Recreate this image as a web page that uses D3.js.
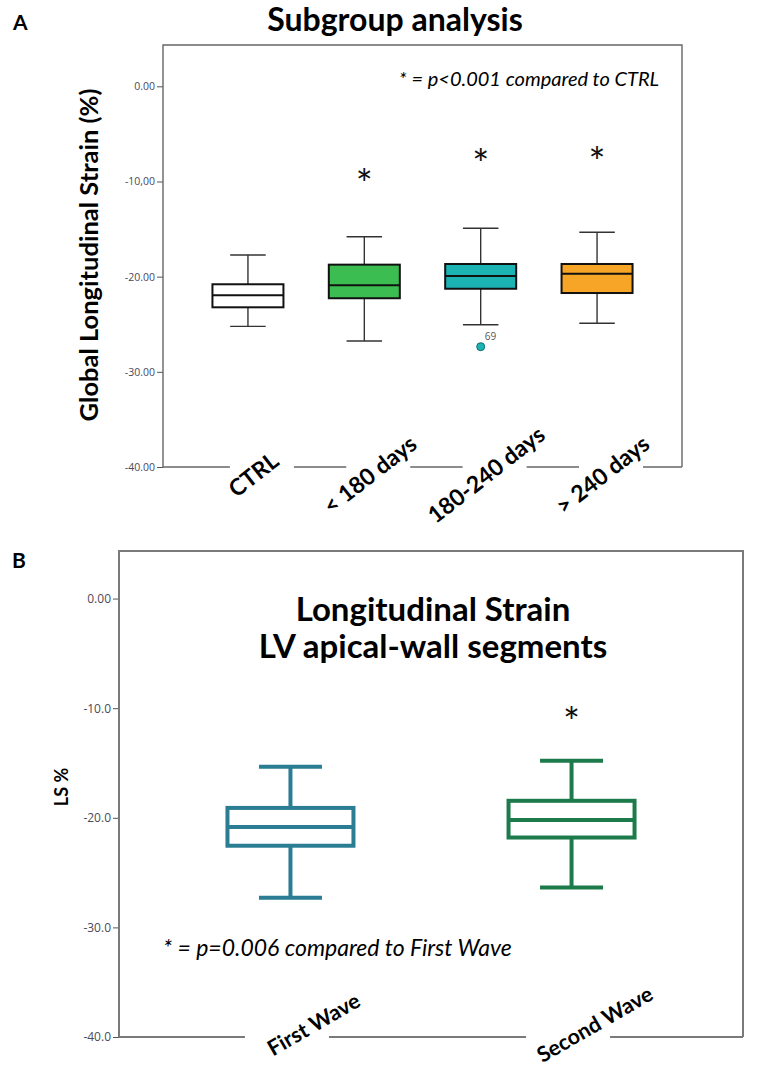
<!DOCTYPE html>
<html lang="en">
<head>
<meta charset="UTF-8">
<title>Subgroup analysis / Longitudinal Strain</title>
<script src="https://d3js.org/d3.v7.min.js"></script>
<style>
  body { margin: 0; background: #fff; }
  svg { display: block; font-family: Lato, "Open Sans", sans-serif; }
  .tick text { font-family: "Open Sans", sans-serif; fill: #4a4a5a; }
</style>
</head>
<body>
<svg id="chart" width="761" height="1070"></svg>
<script>
// ---- Panel A: subgroup analysis ----
const groupsA = ["CTRL", "< 180 days", "180-240 days", "> 240 days"];
const whiskerLowA = [-25.22, -26.76, -25.05, -24.9];
const q1A = [-23.22, -22.27, -21.27, -21.72];
const medianA = [-21.96, -20.91, -19.93, -19.69];
const q3A = [-20.8, -18.74, -18.67, -18.67];
const whiskerHighA = [-17.73, -15.8, -14.92, -15.34];
const colorsA = ["#ffffff", "#3bbd52", "#1cb3b5", "#f7a527"];
const starA = [null, -9.5, -7.4, -7.2];
const outliersA = [{ group: "180-240 days", value: -27.36, label: "69" }];
const tickValuesA = [0, -10, -20, -30, -40];
const tickLabelsA = ["0.00", "-10,00", "-20.00", "-30.00", "-40.00"];

// ---- Panel B: LV apical-wall segments ----
const groupsB = ["First Wave", "Second Wave"];
const whiskerLowB = [-27.3, -26.35];
const q1B = [-22.55, -21.8];
const medianB = [-20.85, -20.2];
const q3B = [-19.1, -18.45];
const whiskerHighB = [-15.35, -14.8];
const colorsB = ["#2a7d93", "#1d7a4a"];
const starB = [null, -10.6];
const tickValuesB = [0, -10, -20, -30, -40];
const tickLabelsB = ["0.00", "-10.0", "-20.0", "-30.0", "-40.0"];

const svg = d3.select("#chart");

function drawPanel(p) {
    const g = svg.append("g");
    const y = d3.scaleLinear().domain([-40, 4.34]).range([p.bottom, p.top]);
    const x = d3.scalePoint().domain(p.groups).range([p.left, p.right]).padding(p.padding);

    const rows = p.groups.map((name, i) => ({
        name, lo: p.lo[i], q1: p.q1[i], med: p.med[i], q3: p.q3[i], hi: p.hi[i],
        color: p.colors[i], star: p.star[i]
    }));

    // y axis (ticks only, frame drawn separately)
    const axis = g.append("g")
        .attr("transform", `translate(${p.left},0)`)
        .call(d3.axisLeft(y).tickValues(p.tickValues)
            .tickFormat((d, i) => p.tickLabels[i]).tickSize(6).tickPadding(2));
    axis.select(".domain").remove();
    axis.selectAll(".tick line").attr("stroke", "#555");
    axis.selectAll(".tick text").attr("font-size", p.tickFont);

    // frame: left, top, right
    g.append("path")
        .attr("d", `M${p.left},${p.bottom}V${p.top}H${p.right}V${p.bottom}`)
        .attr("fill", "none").attr("stroke", p.frameColor).attr("stroke-width", p.frameWidth);

    // x labels + broken bottom axis
    const rad = p.angle * Math.PI / 180;
    const gaps = [];
    rows.forEach(d => {
        const mx = x(d.name) + p.labelDx, my = p.labelY;
        g.append("text")
            .attr("transform", `translate(${mx},${my}) rotate(${-p.angle})`)
            .attr("text-anchor", "middle")
            .attr("dominant-baseline", "central")
            .attr("font-weight", "bold")
            .attr("font-size", p.labelFont)
            .attr("fill", "#000")
            .text(d.name);
        const cx = mx + (my - p.bottom) / Math.tan(rad) + p.gapShift;
        gaps.push([cx - p.gapHalf, cx + p.gapHalf]);
    });
    let start = p.left;
    gaps.forEach(([a, b]) => {
        g.append("line").attr("x1", start).attr("x2", a).attr("y1", p.bottom).attr("y2", p.bottom)
            .attr("stroke", p.frameColor).attr("stroke-width", p.frameWidth);
        start = b;
    });
    g.append("line").attr("x1", start).attr("x2", p.right).attr("y1", p.bottom).attr("y2", p.bottom)
        .attr("stroke", p.frameColor).attr("stroke-width", p.frameWidth);

    // boxes
    const bw = p.boxWidth;
    const box = g.selectAll(".box").data(rows).join("g").attr("class", "box");
    box.append("line")
        .attr("x1", d => x(d.name)).attr("x2", d => x(d.name))
        .attr("y1", d => y(d.hi)).attr("y2", d => y(d.lo))
        .attr("stroke", d => p.whiskerColor || d.color).attr("stroke-width", p.whiskerWidth);
    ["hi", "lo"].forEach(k => {
        box.append("line")
            .attr("x1", d => x(d.name) - bw / 4).attr("x2", d => x(d.name) + bw / 4)
            .attr("y1", d => y(d[k])).attr("y2", d => y(d[k]))
            .attr("stroke", d => p.whiskerColor || d.color).attr("stroke-width", p.whiskerWidth);
    });
    box.append("rect")
        .attr("x", d => x(d.name) - bw / 2).attr("width", bw)
        .attr("y", d => y(d.q3)).attr("height", d => y(d.q1) - y(d.q3))
        .attr("fill", d => p.filled ? d.color : "#fff")
        .attr("stroke", d => p.boxStroke || d.color).attr("stroke-width", p.boxWidthStroke);
    box.append("line")
        .attr("x1", d => x(d.name) - bw / 2).attr("x2", d => x(d.name) + bw / 2)
        .attr("y1", d => y(d.med)).attr("y2", d => y(d.med))
        .attr("stroke", d => p.boxStroke || d.color).attr("stroke-width", p.boxWidthStroke);

    // significance stars (glyph centre sits ~0.55em above the baseline)
    g.selectAll(".star").data(rows.filter(d => d.star !== null)).join("text")
        .attr("x", d => x(d.name)).attr("y", d => y(d.star) + 22)
        .attr("text-anchor", "middle").attr("font-size", 40).attr("fill", "#111")
        .text("*");

    return { g, x, y };
}

// Panel A
const A = drawPanel({
    left: 163, right: 682, top: 45, bottom: 467, padding: 0.73,
    groups: groupsA, lo: whiskerLowA, q1: q1A, med: medianA, q3: q3A, hi: whiskerHighA,
    colors: colorsA, star: starA, tickValues: tickValuesA, tickLabels: tickLabelsA,
    tickFont: 10.5, frameColor: "#666", frameWidth: 1.4,
    angle: 38, labelDx: 5, labelY: 474, labelFont: 23, gapHalf: 32, gapShift: 0,
    boxWidth: 71, filled: true, boxStroke: "#111", boxWidthStroke: 2,
    whiskerColor: "#333", whiskerWidth: 1.4
});

A.g.selectAll(".outlier").data(outliersA).join("circle")
    .attr("cx", d => A.x(d.group)).attr("cy", d => A.y(d.value)).attr("r", 4)
    .attr("fill", colorsA[2]).attr("stroke", "#106b6b").attr("stroke-width", 1);
A.g.selectAll(".outlier-label").data(outliersA).join("text")
    .attr("x", d => A.x(d.group) + 4).attr("y", d => A.y(d.value) - 7)
    .attr("font-size", 10).attr("fill", "#555").attr("font-family", "Open Sans, sans-serif")
    .text(d => d.label);

svg.append("text").attr("x", 13).attr("y", 30).attr("font-size", 21).attr("font-weight", "bold").text("A");
svg.append("text").attr("x", 395).attr("y", 31).attr("text-anchor", "middle")
    .attr("font-size", 32).attr("font-weight", "bold").text("Subgroup analysis");
svg.append("text").attr("transform", "translate(88,255) rotate(-90)")
    .attr("text-anchor", "middle").attr("dominant-baseline", "central")
    .attr("font-size", 25.5).attr("font-weight", "bold").text("Global Longitudinal Strain (%)");
svg.append("text").attr("x", 529).attr("y", 86).attr("text-anchor", "middle")
    .attr("font-size", 20).attr("font-style", "italic").text("* = p<0.001 compared to CTRL");

// Panel B
const B = drawPanel({
    left: 119, right: 743, top: 551, bottom: 1037, padding: 0.61,
    groups: groupsB, lo: whiskerLowB, q1: q1B, med: medianB, q3: q3B, hi: whiskerHighB,
    colors: colorsB, star: starB, tickValues: tickValuesB, tickLabels: tickLabelsB,
    tickFont: 12, frameColor: "#7a7a7a", frameWidth: 2,
    angle: 30, labelDx: 23, labelY: 1024, labelFont: 21.5, gapHalf: 42, gapShift: -4,
    boxWidth: 126, filled: false, boxStroke: null, boxWidthStroke: 4,
    whiskerColor: null, whiskerWidth: 4
});

svg.append("text").attr("x", 12).attr("y", 568).attr("font-size", 21).attr("font-weight", "bold").text("B");
svg.append("text").attr("x", 433).attr("y", 621).attr("text-anchor", "middle")
    .attr("font-size", 33).attr("font-weight", "bold").text("Longitudinal Strain");
svg.append("text").attr("x", 433).attr("y", 658).attr("text-anchor", "middle")
    .attr("font-size", 33).attr("font-weight", "bold").text("LV apical-wall segments");
svg.append("text").attr("transform", "translate(61,787) rotate(-90)")
    .attr("text-anchor", "middle").attr("dominant-baseline", "central")
    .attr("font-size", 18).attr("font-weight", "bold").text("LS %");
svg.append("text").attr("x", 163).attr("y", 956)
    .attr("font-size", 23).attr("font-style", "italic").text("* = p=0.006 compared to First Wave");
</script>
</body>
</html>
